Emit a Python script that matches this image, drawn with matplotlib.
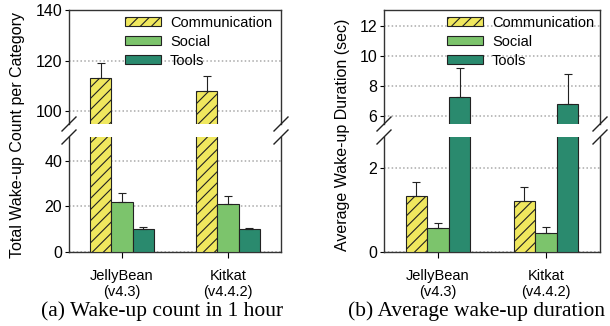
import numpy as np
import matplotlib.pyplot as plt

plt.rcParams['font.family'] = ['Liberation Sans', 'DejaVu Sans']
plt.rcParams['hatch.linewidth'] = 0.8

groups = ['JellyBean\n(v4.3)', 'Kitkat\n(v4.4.2)']
series = ['Communication', 'Social', 'Tools']
colors = ['#F0E85E', '#7CC46C', '#2A8A6E']
hatches = ['///', '', '']

# (a) wake-up count in 1 hour
count_mean = [[113, 108], [22, 21], [10, 10]]
count_err = [[6, 6], [3.7, 3.7], [1.0, 0.7]]
# (b) average wake-up duration (sec)
dur_mean = [[1.33, 1.22], [0.57, 0.45], [7.3, 6.8]]
dur_err = [[0.32, 0.33], [0.13, 0.15], [1.9, 2.0]]

W, H = 610, 326
fig = plt.figure(figsize=(W / 100, H / 100), dpi=100)


def px(l, r, t, b):
    return [l / W, 1 - b / H, (r - l) / W, (b - t) / H]


def panel(left, right, means, errs, top_lim, top_ticks, bot_lim, bot_ticks,
          ylabel, ylabel_x, caption, caption_x, leg_anchor):
    ax_t = fig.add_axes(px(left, right, 10, 124))
    ax_b = fig.add_axes(px(left, right, 137, 252))
    x = np.arange(len(groups))
    w = 0.2
    for ax in (ax_t, ax_b):
        for i, s in enumerate(series):
            ax.bar(x + (i - 1) * w, means[i], w, color=colors[i], hatch=hatches[i],
                   edgecolor='#222222', linewidth=0.8, label=s, zorder=3)
            ax.errorbar(x + (i - 1) * w, means[i],
                        yerr=[np.zeros(len(groups)), errs[i]],
                        fmt='none', ecolor='#222222', elinewidth=0.8,
                        capsize=3, capthick=0.8, zorder=4)
        ax.set_xlim(-0.5, 1.5)
        ax.yaxis.grid(True, linestyle=(0, (1, 1.5)), color='#aaaaaa', linewidth=1.1, zorder=0)
        ax.tick_params(axis='y', direction='out', length=3, labelsize=11.5, pad=2)
        for sp in ax.spines.values():
            sp.set_color('#333333')
            sp.set_linewidth(1)
    ax_t.set_ylim(*top_lim)
    ax_t.set_yticks(top_ticks)
    ax_t.spines['bottom'].set_visible(False)
    ax_t.set_xticks([])
    ax_b.set_ylim(*bot_lim)
    ax_b.set_yticks(bot_ticks)
    ax_b.spines['top'].set_visible(False)
    ax_b.set_xticks(x)
    ax_b.set_xticklabels(groups, fontsize=10.5)
    ax_b.tick_params(axis='x', direction='out', length=4, pad=8)

    # break marks
    d = 7
    for xx in (left, right):
        for yy in (124, 137):
            fig.add_artist(plt.Line2D([(xx - d) / W, (xx + d) / W],
                                      [1 - (yy + d) / H, 1 - (yy - d) / H],
                                      color='#222222', linewidth=1))

    ax_t.legend(loc='upper right', bbox_to_anchor=leg_anchor, frameon=False,
                fontsize=10.5, handlelength=2.5, handleheight=0.55,
                labelspacing=0.35, handletextpad=0.6, borderaxespad=0)
    fig.text(ylabel_x / W, 1 - 135 / H, ylabel, rotation=90, ha='center',
             va='center', fontsize=11.5)
    fig.text(caption_x / W, 1 - 311 / H, caption, ha='center', va='center',
             fontsize=15.5, family='Liberation Serif')


panel(69, 281, count_mean, count_err, (95, 140), [100, 120, 140],
      (0, 50.5), [0, 20, 40], 'Total Wake-up Count per Category', 18,
      '(a) Wake-up count in 1 hour', 162, (0.985, 1.0))
panel(384, 600, dur_mean, dur_err, (5.47, 13.07), [6, 8, 10, 12],
      (0, 2.73), [0, 2], 'Average Wake-up Duration (sec)', 343,
      '(b) Average wake-up duration', 477, (1.0, 1.0))

fig.savefig('out.png', dpi=100)
